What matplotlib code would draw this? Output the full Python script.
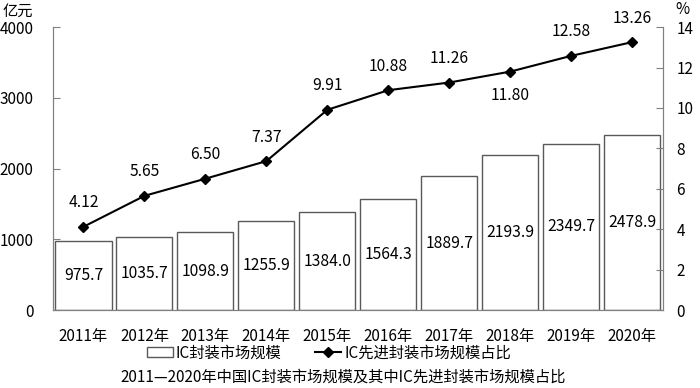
import numpy as np
import matplotlib.pyplot as plt
from matplotlib.lines import Line2D
from matplotlib.patches import Patch

plt.rcParams['font.family'] = ['Noto Sans CJK SC', 'DejaVu Sans']
plt.rcParams['font.size'] = 11

# data
years = ['2011年', '2012年', '2013年', '2014年', '2015年',
         '2016年', '2017年', '2018年', '2019年', '2020年']
market = [975.7, 1035.7, 1098.9, 1255.9, 1384.0, 1564.3, 1889.7, 2193.9, 2349.7, 2478.9]
share = [4.12, 5.65, 6.50, 7.37, 9.91, 10.88, 11.26, 11.80, 12.58, 13.26]
below = [False, False, False, False, False, False, False, True, False, False]

axis_col = '#808080'

fig = plt.figure(figsize=(7, 3.88), dpi=100)
ax = fig.add_axes([0.0757, 0.201, 0.871, 0.729])
x = np.arange(len(years))

ax.bar(x, market, width=0.92, color='white', edgecolor='#595959', linewidth=1.0)
for xi, v in zip(x, market):
    ax.text(xi, v / 2, f'{v:.1f}', ha='center', va='center', fontsize=11.3)

ax.set_xlim(-0.5, len(years) - 0.5)
ax.set_ylim(0, 4000)
ax.set_yticks(np.arange(0, 4001, 1000))
ax.set_xticks(x)
ax.set_xticklabels(years)
ax.tick_params(axis='x', length=0, pad=13)
ax.tick_params(axis='y', direction='in', length=5, color=axis_col, pad=14)
ax.spines['top'].set_visible(False)
for s in ['left', 'right', 'bottom']:
    ax.spines[s].set_color(axis_col)

ax2 = ax.twinx()
ax2.plot(x, share, color='black', linewidth=1.5, marker='D', markersize=5)
for xi, v, b in zip(x, share, below):
    off = -24 if b else 24
    ax2.annotate(f'{v:.2f}', (xi, v), xytext=(0, off), textcoords='offset pixels',
                 ha='center', va='center', fontsize=11.3)
ax2.set_ylim(0, 14)
ax2.set_yticks(np.arange(0, 15, 2))
ax2.tick_params(axis='y', direction='in', length=5, color=axis_col, pad=10)
ax2.spines['top'].set_visible(False)
for s in ['left', 'right', 'bottom']:
    ax2.spines[s].set_color(axis_col)

fig.text(0.003, 0.97, '亿元', fontsize=11, ha='left', va='center')
fig.text(0.975, 0.975, '%', fontsize=11, ha='center', va='center')

handles = [Patch(facecolor='white', edgecolor='#595959', linewidth=1.0),
           Line2D([0], [0], color='black', linewidth=1.5, marker='D', markersize=5)]
fig.legend(handles, ['IC封装市场规模', 'IC先进封装市场规模占比'], loc='center',
           bbox_to_anchor=(0.47, 0.09), ncol=2, frameon=False, fontsize=11,
           handlelength=1.7, handletextpad=0.2, columnspacing=2.2,
           handleheight=0.6)

fig.text(0.49, 0.028, '2011—2020年中国IC封装市场规模及其中IC先进封装市场规模占比',
         ha='center', va='center', fontsize=11)

fig.savefig('out.png', dpi=100)
